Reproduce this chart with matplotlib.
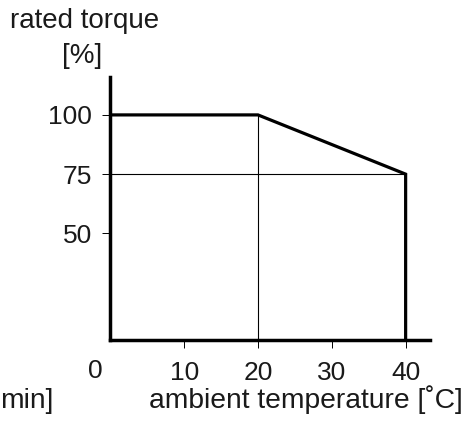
import matplotlib

matplotlib.use("Agg")
import matplotlib.pyplot as plt

plt.rcParams["font.family"] = ["Liberation Sans", "DejaVu Sans"]

# derating curve: ambient temperature [C] vs. rated torque [%]
temp = [0, 20, 40, 40]
torque = [100, 100, 75, 5]
x_ticks = [10, 20, 30, 40]
y_ticks = [50, 75, 100]
ref_temp = 20
ref_torque = 75

W, H = 469, 436
TEXT = "#1a1a1a"


def px(x, y):
    return x / W, 1 - y / H


fig = plt.figure(figsize=(W / 100, H / 100), dpi=100)
ax = fig.add_axes([110.3 / W, (H - 340) / H, (430 - 110.3) / W, (340 - 77) / H])
ax.set_xlim(0, 43.3)
ax.set_ylim(5, 116)

for side in ("top", "right"):
    ax.spines[side].set_visible(False)
for side in ("left", "bottom"):
    ax.spines[side].set_linewidth(2.5)
    ax.spines[side].set_color("black")

# thin helper lines
ax.plot([0, temp[2]], [ref_torque, ref_torque], color="black", lw=0.8)
ax.plot([ref_temp, ref_temp], [torque[1], ax.get_ylim()[0]], color="black", lw=0.8)

# thick curve
ax.plot(temp, torque, color="black", lw=2.3, solid_joinstyle="miter")

ax.set_xticks(x_ticks)
ax.set_yticks(y_ticks)
ax.tick_params(direction="out", length=6, width=0.7, labelsize=19, labelcolor=TEXT)
ax.tick_params(axis="x", pad=9)
ax.tick_params(axis="y", pad=7)

fig.text(*px(95, 371), "0", ha="center", va="center", fontsize=19, color=TEXT)
fig.text(*px(85, 28), "rated torque", ha="center", va="baseline", fontsize=20, color=TEXT)
fig.text(*px(82, 63), "[%]", ha="center", va="baseline", fontsize=20, color=TEXT)
fig.text(*px(463, 408), "ambient temperature [\u02daC]", ha="right", va="baseline",
         fontsize=20.3, color=TEXT)
fig.text(*px(0.5, 408), "min]", ha="left", va="baseline", fontsize=20.3, color=TEXT)

fig.savefig("out.png", dpi=100)
